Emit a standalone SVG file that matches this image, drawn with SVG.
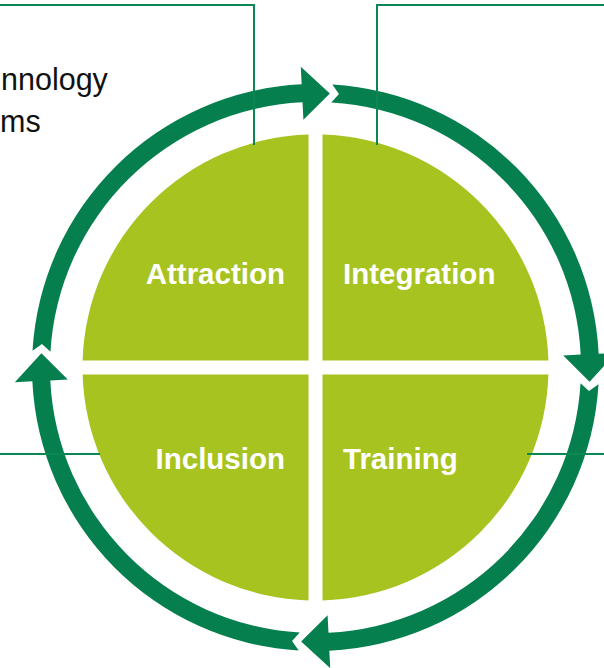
<svg xmlns="http://www.w3.org/2000/svg" xmlns:xlink="http://www.w3.org/1999/xlink" width="604" height="668" viewBox="0 0 604 668">
  <style>
    .quad { fill: #A7C320; }
    .ring { fill: #067F4E; }
    .label { font-family: "Liberation Sans", Arial, sans-serif; font-weight: bold; font-size: 29.5px; fill: #FFFFFF; }
    .side { font-family: "Liberation Sans", Arial, sans-serif; font-size: 30.5px; fill: #111111; }
    .conn { fill: none; stroke: #0A8755; stroke-width: 2; }
  </style>
  <defs>
    <path id="arrowSeg" d="M -283.0 -16.81 A 283.5 283.5 0 0 1 -13.85 -283.16 L -14.70 -300.64 L 14.37 -274.12 L -12.11 -247.70 L -12.97 -265.18 A 265.5 265.5 0 0 0 -265.03 -15.75 L -273.50 -23.45 Z"/>
  </defs>
  <rect width="604" height="668" fill="#FFFFFF"/>

  <g id="side-text">
    <text class="side" x="1" y="90">nnology</text>
    <text class="side" x="0" y="132">ms</text>
  </g>

  <g id="cycle" transform="translate(315.5,367.5)">
    <use xlink:href="#arrowSeg" href="#arrowSeg" class="ring"/>
    <use xlink:href="#arrowSeg" href="#arrowSeg" class="ring" transform="rotate(90)"/>
    <use xlink:href="#arrowSeg" href="#arrowSeg" class="ring" transform="rotate(180)"/>
    <use xlink:href="#arrowSeg" href="#arrowSeg" class="ring" transform="rotate(270)"/>
  </g>

  <g id="attraction">
    <path class="quad" transform="translate(315.5,367.5)" d="M -7 -7 L -7 -232.9 A 233 233 0 0 0 -232.9 -7 Z"/>
    <text class="label" x="285" y="284" text-anchor="end">Attraction</text>
  </g>
  <g id="integration">
    <path class="quad" transform="translate(315.5,367.5)" d="M 7 -7 L 232.9 -7 A 233 233 0 0 0 7 -232.9 Z"/>
    <text class="label" x="343" y="284">Integration</text>
  </g>
  <g id="training">
    <path class="quad" transform="translate(315.5,367.5)" d="M 7 7 L 7 232.9 A 233 233 0 0 0 232.9 7 Z"/>
    <text class="label" x="343" y="469">Training</text>
  </g>
  <g id="inclusion">
    <path class="quad" transform="translate(315.5,367.5)" d="M -7 7 L -232.9 7 A 233 233 0 0 0 -7 232.9 Z"/>
    <text class="label" x="285" y="469" text-anchor="end">Inclusion</text>
  </g>

  <g id="connectors">
    <path class="conn" d="M 0 5 H 254 V 145"/>
    <path class="conn" d="M 604 5 H 377 V 145"/>
    <path class="conn" d="M 0 454 H 100"/>
    <path class="conn" d="M 527 454 H 604"/>
  </g>
</svg>
